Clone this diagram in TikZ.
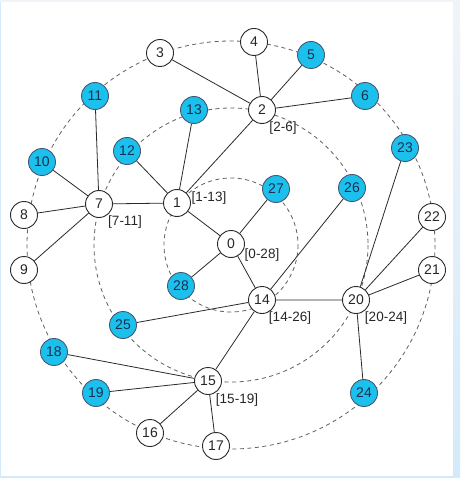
\documentclass[tikz,border=0pt]{standalone}
\usepackage{fontspec}
\setmainfont{Liberation Sans}
\definecolor{cyanfill}{HTML}{1CC0EC}
\definecolor{framebl}{HTML}{D4EAFA}
\definecolor{framelt}{HTML}{F0F4F8}
\definecolor{edgecol}{HTML}{2A2A2A}
\definecolor{dashcol}{HTML}{606060}
\definecolor{navytext}{HTML}{1A3050}
\begin{document}
\begin{tikzpicture}[x=1pt,y=-1pt,
  wnode/.style={circle,draw=edgecol,line width=0.9pt,fill=white,minimum size=27pt,inner sep=0pt,font=\fontsize{14}{14}\selectfont,text=black!85},
  cnode/.style={circle,draw=navytext!80,line width=0.9pt,fill=cyanfill,minimum size=27pt,inner sep=0pt,font=\fontsize{14}{14}\selectfont,text=navytext},
  rlabel/.style={inner sep=0pt,font=\fontsize{13.5}{13.5}\selectfont,text=black!85},
  link/.style={draw=edgecol,line width=0.8pt},
  ring/.style={draw=dashcol,line width=0.8pt,dash pattern=on 4pt off 3.5pt}]
% frame / background
\fill[framebl] (0,0) rectangle (460,478);
\fill[framelt] (0,0) rectangle (460,2);
\shade[top color=framelt,bottom color=framebl] (453,2) rectangle (460,478);
\fill[white] (1,2) rectangle (453,476);
\useasboundingbox (0,0) rectangle (460,478);
% rings
\coordinate (ctr) at (231,245);
\draw[ring] (ctr) circle[radius=67];
\draw[ring] (ctr) circle[radius=137];
\draw[ring] (ctr) circle[radius=204];
% nodes
\node[wnode] (n0) at (231,244) {0};
\node[wnode] (n1) at (177,203) {1};
\node[wnode] (n2) at (262,110) {2};
\node[wnode] (n3) at (160,53) {3};
\node[wnode] (n4) at (254,42) {4};
\node[cnode] (n5) at (311,55) {5};
\node[cnode] (n6) at (365,96) {6};
\node[wnode] (n7) at (99,204) {7};
\node[wnode] (n8) at (24,215) {8};
\node[wnode] (n9) at (24,270) {9};
\node[cnode] (n10) at (42,162) {10};
\node[cnode] (n11) at (95,96) {11};
\node[cnode] (n12) at (127,151) {12};
\node[cnode] (n13) at (194,110) {13};
\node[wnode] (n14) at (262,300) {14};
\node[wnode] (n15) at (208,381) {15};
\node[wnode] (n16) at (150,433) {16};
\node[wnode] (n17) at (216,446) {17};
\node[cnode] (n18) at (54,352) {18};
\node[cnode] (n19) at (96,393) {19};
\node[wnode] (n20) at (356,300) {20};
\node[wnode] (n21) at (432,270) {21};
\node[wnode] (n22) at (432,217) {22};
\node[cnode] (n23) at (405,148) {23};
\node[cnode] (n24) at (364,393) {24};
\node[cnode] (n25) at (123,325) {25};
\node[cnode] (n26) at (352,188) {26};
\node[cnode] (n27) at (276,189) {27};
\node[cnode] (n28) at (181,286) {28};
% edges
\path[link] (n0) -- (n1) (n0) -- (n27) (n0) -- (n28) (n0) -- (n14);
\path[link] (n1) -- (n12) (n1) -- (n13) (n1) -- (n2) (n1) -- (n7);
\path[link] (n2) -- (n3) (n2) -- (n4) (n2) -- (n5) (n2) -- (n6);
\path[link] (n7) -- (n10) (n7) -- (n11) (n7) -- (n8) (n7) -- (n9);
\path[link] (n14) -- (n25) (n14) -- (n26) (n14) -- (n15) (n14) -- (n20);
\path[link] (n15) -- (n18) (n15) -- (n19) (n15) -- (n16) (n15) -- (n17);
\path[link] (n20) -- (n23) (n20) -- (n22) (n20) -- (n21) (n20) -- (n24);
% range labels
\node[rlabel] (l1) at (209,198) {[1-13]};
\node[rlabel] (l2) at (283,128) {[2-6]};
\node[rlabel] (l7) at (125,222) {[7-11]};
\node[rlabel] (l0) at (262,255) {[0-28]};
\node[rlabel] (l14) at (290,318) {[14-26]};
\node[rlabel] (l20) at (386,318) {[20-24]};
\node[rlabel] (l15) at (237,400) {[15-19]};
\end{tikzpicture}
\end{document}
